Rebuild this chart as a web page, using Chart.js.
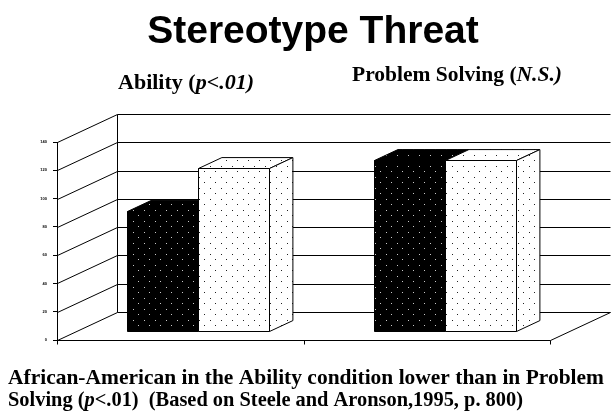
<!DOCTYPE html>
<html>
<head>
<meta charset="utf-8">
<script src="https://cdn.jsdelivr.net/npm/chart.js@4.4.1/dist/chart.umd.min.js"></script>
<style>
  html, body { margin: 0; padding: 0; background: #fff; }
</style>
</head>
<body>
<canvas id="chart" width="613" height="420"></canvas>
<script>
// values
const categories = ["Ability", "Problem Solving"];
const blackValues = [85, 121];
const whiteValues = [116, 121];
const tickMax = 140;
const tickStep = 20;

const titleText = "Stereotype Threat";
const groupLabels = [
    [{ t: "Ability (" }, { t: "p<.01)", i: true }],
    [{ t: "Problem Solving (" }, { t: "N.S.)", i: true }]
];
const captionLines = [
    [{ t: "African-American in the Ability condition lower than in Problem" }],
    [{ t: "Solving (" }, { t: "p", i: true }, { t: "<.01)  (Based on Steele and Aronson,1995, p. 800)" }]
];

// depth of the 3d box and where the bars sit in it
const DX = 60, DY = -28;
const BAR_FRONT = 0.3, BAR_DEPTH = 0.39;

function dotPattern(ctx, bg, dot) {
    const c = document.createElement("canvas");
    c.width = 11; c.height = 11;
    const p = c.getContext("2d");
    p.fillStyle = bg;
    p.fillRect(0, 0, 11, 11);
    p.fillStyle = dot;
    p.fillRect(1, 1, 1, 1);
    p.fillRect(6, 6, 1, 1);
    return ctx.createPattern(c, "repeat");
}

// text runs in Times bold, stretched a bit sideways like the original
function drawRuns(ctx, runs, x, y, size, width) {
    const fontOf = r => (r.i ? "italic " : "") + "bold " + size + "px 'Liberation Serif'";
    let total = 0;
    for (const r of runs) {
        ctx.font = fontOf(r);
        total += ctx.measureText(r.t).width;
    }
    ctx.save();
    ctx.translate(x, y);
    ctx.scale(width / total, 1);
    ctx.textAlign = "left";
    ctx.textBaseline = "alphabetic";
    ctx.fillStyle = "#000";
    let cx = 0;
    for (const r of runs) {
        ctx.font = fontOf(r);
        ctx.fillText(r.t, cx, 0);
        cx += ctx.measureText(r.t).width;
    }
    ctx.restore();
}

const h = v => Math.round(v) + 0.5;

function line(ctx, x1, y1, x2, y2) {
    ctx.beginPath();
    ctx.moveTo(h(x1), h(y1));
    ctx.lineTo(h(x2), h(y2));
    ctx.stroke();
}

const box3d = {
    id: "box3d",
    beforeDatasetsDraw(chart) {
        const { ctx, chartArea: { left, right, top, bottom }, scales: { y } } = chart;
        ctx.save();
        ctx.strokeStyle = "#000";
        ctx.lineWidth = 1;
        // back wall + diagonals from each tick
        for (const t of y.ticks) {
            const py = y.getPixelForValue(t.value);
            line(ctx, left, py, left + DX, py + DY);
            line(ctx, left + DX, py + DY, right + DX, py + DY);
        }
        line(ctx, left + DX, top + DY, left + DX, bottom + DY);
        // floor
        line(ctx, left, bottom, right, bottom);
        line(ctx, right, bottom, right + DX, bottom + DY);
        const mid = (left + right) / 2;
        [left, mid, right].forEach(x => line(ctx, x, bottom, x, bottom + 4));
        ctx.restore();
    },
    beforeDatasetDraw() {
        return false;
    },
    afterDatasetsDraw(chart) {
        const { ctx } = chart;
        const ox = BAR_FRONT * DX, oy = BAR_FRONT * DY;
        const dx = BAR_DEPTH * DX, dy = BAR_DEPTH * DY;
        const fills = [dotPattern(ctx, "#000", "#c8c8c8"), dotPattern(ctx, "#fff", "#222")];
        ctx.save();
        ctx.strokeStyle = "#000";
        ctx.lineWidth = 1;
        for (let i = 0; i < categories.length; i++) {
            chart.data.datasets.forEach((ds, d) => {
                const el = chart.getDatasetMeta(d).data[i];
                const l = Math.round(el.x - el.width / 2 + ox) + 0.5;
                const r = Math.round(el.x + el.width / 2 + ox) + 0.5;
                const t = Math.round(el.y + oy) + 0.5;
                const b = Math.round(el.base + oy) + 0.5;
                const faces = [
                    [[l, t], [r, t], [r, b], [l, b]],
                    [[l, t], [r, t], [r + dx, t + dy], [l + dx, t + dy]],
                    [[r, t], [r + dx, t + dy], [r + dx, b + dy], [r, b]]
                ];
                ctx.fillStyle = fills[d];
                for (const f of faces) {
                    ctx.beginPath();
                    ctx.moveTo(f[0][0], f[0][1]);
                    for (let k = 1; k < f.length; k++) ctx.lineTo(f[k][0], f[k][1]);
                    ctx.closePath();
                    ctx.fill();
                    ctx.stroke();
                }
            });
        }
        ctx.restore();
    },
    afterDraw(chart) {
        const { ctx } = chart;
        ctx.save();
        ctx.fillStyle = "#000";
        ctx.textAlign = "center";
        ctx.font = "bold 39px 'Liberation Sans'";
        ctx.fillText(titleText, 313, 43);
        ctx.restore();
        drawRuns(ctx, groupLabels[0], 118, 89, 20, 136);
        drawRuns(ctx, groupLabels[1], 352, 81, 20, 210);
        drawRuns(ctx, captionLines[0], 8, 384, 21, 596);
        drawRuns(ctx, captionLines[1], 8, 406, 21, 515);
    }
};

new Chart(document.getElementById("chart"), {
    type: "bar",
    data: {
        labels: categories,
        datasets: [
            { label: "black", data: blackValues, backgroundColor: "#000" },
            { label: "white", data: whiteValues, backgroundColor: "#fff" }
        ]
    },
    options: {
        responsive: false,
        animation: false,
        devicePixelRatio: 1,
        categoryPercentage: 0.576,
        barPercentage: 1,
        layout: { padding: { left: 0, right: 63, top: 142, bottom: 80 } },
        scales: {
            x: { display: false },
            y: {
                min: 0,
                max: tickMax,
                ticks: {
                    stepSize: tickStep,
                    color: "#000",
                    padding: 6,
                    font: { size: 4, weight: "bold", family: "'Liberation Sans'" }
                },
                grid: { drawOnChartArea: false, tickLength: 4, color: "#000" },
                border: { color: "#000" },
                afterFit(scale) { scale.width = 57; }
            }
        },
        plugins: {
            legend: { display: false },
            tooltip: { enabled: false }
        }
    },
    plugins: [box3d]
});
</script>
</body>
</html>
